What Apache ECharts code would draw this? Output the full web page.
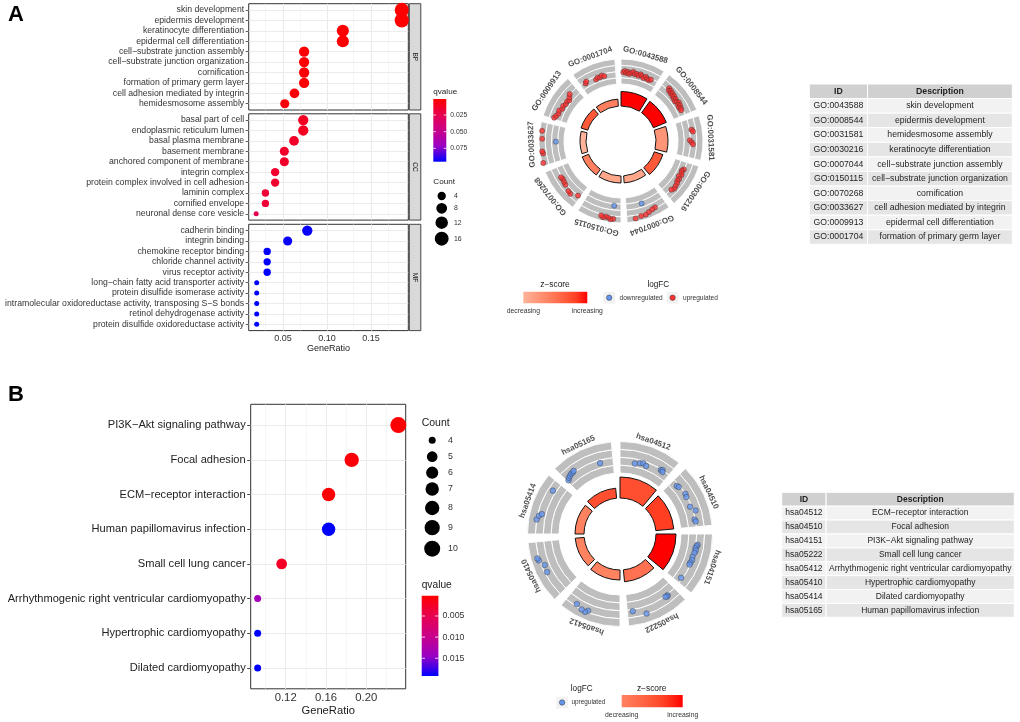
<!DOCTYPE html>
<html><head><meta charset="utf-8">
<script src="https://cdn.jsdelivr.net/npm/echarts@6/dist/echarts.min.js"></script>
<style>html,body{margin:0;padding:0;background:#fff}#c{width:1020px;height:722px}</style>
</head><body><div id="c"></div>
<script>
const FONT = '"Liberation Sans", Arial, Helvetica, sans-serif';

// ================= Panel A : GO dot plot =================
const bpTerms = ['skin development','epidermis development','keratinocyte differentiation','epidermal cell differentiation','cell\u2212substrate junction assembly','cell\u2212substrate junction organization','cornification','formation of primary germ layer','cell adhesion mediated by integrin','hemidesmosome assembly'];
const bpRatio = [0.185,0.185,0.118,0.118,0.074,0.074,0.074,0.074,0.063,0.052];
const bpCount = [17,17,11,11,7,7,7,7,6,5];
const bpQ = [0.0010,0.0010,0.0012,0.0012,0.0020,0.0020,0.0022,0.0022,0.0030,0.0040];

const ccTerms = ['basal part of cell','endoplasmic reticulum lumen','basal plasma membrane','basement membrane','anchored component of membrane','integrin complex','protein complex involved in cell adhesion','laminin complex','cornified envelope','neuronal dense core vesicle'];
const ccRatio = [0.073,0.073,0.0625,0.0515,0.0515,0.041,0.041,0.030,0.030,0.0195];
const ccCount = [7,7,6,5,5,4,4,3,3,2];
const ccQ = [0.011,0.011,0.013,0.014,0.014,0.015,0.015,0.017,0.017,0.026];

const mfTerms = ['cadherin binding','integrin binding','chemokine receptor binding','chloride channel activity','virus receptor activity','long\u2212chain fatty acid transporter activity','protein disulfide isomerase activity','intramolecular oxidoreductase activity, transposing S\u2212S bonds','retinol dehydrogenase activity','protein disulfide oxidoreductase activity'];
const mfRatio = [0.0776,0.0553,0.032,0.032,0.032,0.0201,0.0201,0.0201,0.0201,0.0201];
const mfCount = [7,5,3,3,3,2,2,2,2,2];
const mfQ = [0.094,0.094,0.095,0.095,0.095,0.095,0.095,0.095,0.095,0.095];

const facetNames = ['BP','CC','MF'];
const xMajorA = [0.05,0.10,0.15];
const xMinorA = [0.025,0.075,0.125,0.175];
const xRangeA = [0.011,0.1924];
const qRangeA = [0.001,0.095];
const qTicksA = [0.025,0.05,0.075];
const countBreaksA = [4,8,12,16];

// ================= Panel B : KEGG dot plot =================
const kTerms = ['PI3K\u2212Akt signaling pathway','Focal adhesion','ECM\u2212receptor interaction','Human papillomavirus infection','Small cell lung cancer','Arrhythmogenic right ventricular cardiomyopathy','Hypertrophic cardiomyopathy','Dilated cardiomyopathy'];
const kRatio = [0.2318,0.1855,0.1626,0.1626,0.1160,0.0922,0.0922,0.0922];
const kCount = [10,8,7,7,5,4,4,4];
const kQ = [0.0004,0.0008,0.0005,0.0192,0.0024,0.0136,0.0192,0.0192];
const xMajorB = [0.12,0.16,0.20];
const xMinorB = [0.10,0.14,0.18,0.22];
const xRangeB = [0.0853,0.2391];
const qRangeB = [0.0002,0.0192];
const qTicksB = [0.005,0.010,0.015];
const countBreaksB = [4,5,6,7,8,9,10];

// ================= GO circle =================
const goIds = ['GO:0043588','GO:0008544','GO:0031581','GO:0030216','GO:0007044','GO:0150115','GO:0070268','GO:0033627','GO:0009913','GO:0001704'];
const goDesc = ['skin development','epidermis development','hemidesmosome assembly','keratinocyte differentiation','cell\u2212substrate junction assembly','cell\u2212substrate junction organization','cornification','cell adhesion mediated by integrin','epidermal cell differentiation','formation of primary germ layer'];
const goSig = [14.5,14,12,9,7,7,7,6,7,7];
const goZ = [4.12,4.12,2.24,3.32,1.89,1.89,2.65,1.63,3.32,2.65];
// gene points: [position in sector 0..1, logFC ring value, direction 1 up / -1 down]
const pts_GO0043588 = [[0.06,1.9,1],[0.1,2.1,1],[0.14,1.8,1],[0.18,2.0,1],[0.22,1.7,1],[0.27,1.9,1],[0.32,2.1,1],[0.37,1.8,1],[0.42,1.9,1],[0.47,1.7,1],[0.52,2.0,1],[0.57,1.8,1],[0.62,1.6,1],[0.67,1.9,1],[0.72,1.7,1],[0.77,1.6,1],[0.82,1.8,1]];
const pts_GO0008544 = [[0.2,2.3,1],[0.24,2.0,1],[0.28,2.2,1],[0.32,1.9,1],[0.36,2.1,1],[0.4,1.8,1],[0.44,2.0,1],[0.48,1.7,1],[0.52,1.9,1],[0.56,1.6,1],[0.6,1.8,1],[0.64,2.0,1],[0.68,1.7,1],[0.72,1.9,1],[0.76,1.6,1],[0.8,1.8,1],[0.85,1.7,1]];
const pts_GO0031581 = [[0.28,2.3,1],[0.33,2.5,1],[0.55,1.9,1],[0.6,2.2,1],[0.65,2.4,1]];
const pts_GO0030216 = [[0.2,1.9,1],[0.25,1.7,1],[0.3,1.8,1],[0.36,2.0,1],[0.42,1.7,1],[0.48,2.0,1],[0.54,1.9,1],[0.6,2.1,1],[0.68,2.2,1],[0.75,2.3,1],[0.82,2.1,1]];
const pts_GO0007044 = [[0.28,2.8,1],[0.36,2.9,1],[0.46,3.1,1],[0.55,3.3,1],[0.66,3.3,1],[0.8,3.5,1],[0.56,1.4,-1]];
const pts_GO0150115 = [[0.18,3.4,1],[0.24,3.5,1],[0.3,3.3,1],[0.36,3.2,1],[0.42,3.4,1],[0.47,3.2,1],[0.19,1.3,-1]];
const pts_GO0070268 = [[0.07,2.0,1],[0.25,2.6,1],[0.33,2.5,1],[0.5,2.2,1],[0.58,2.1,1],[0.66,2.0,1],[0.72,2.1,1]];
const pts_GO0033627 = [[0.07,3.8,1],[0.28,3.5,1],[0.33,3.6,1],[0.62,3.5,1],[0.8,3.6,1],[0.55,1.3,-1]];
const pts_GO0009913 = [[0.04,2.2,1],[0.1,2.0,1],[0.18,1.8,1],[0.26,1.9,1],[0.34,1.6,1],[0.42,1.7,1],[0.5,1.5,1],[0.58,1.6,1],[0.64,1.4,1],[0.7,1.7,1],[0.77,2.0,1]];
const pts_GO0001704 = [[0.14,1.7,1],[0.18,1.9,1],[0.44,1.5,1],[0.5,1.7,1],[0.56,1.6,1],[0.62,1.8,1],[0.68,1.6,1]];
const goPoints = [pts_GO0043588,pts_GO0008544,pts_GO0031581,pts_GO0030216,pts_GO0007044,pts_GO0150115,pts_GO0070268,pts_GO0033627,pts_GO0009913,pts_GO0001704];

// ================= KEGG circle =================
const keggIds = ['hsa04512','hsa04510','hsa04151','hsa05222','hsa05412','hsa05410','hsa05414','hsa05165'];
const keggDesc = ['ECM\u2212receptor interaction','Focal adhesion','PI3K\u2212Akt signaling pathway','Small cell lung cancer','Arrhythmogenic right ventricular cardiomyopathy','Hypertrophic cardiomyopathy','Dilated cardiomyopathy','Human papillomavirus infection'];
const keggSig = [21,18,20,12,10,9,9,10];
const keggZ = [2.65,2.83,3.16,2.24,2.0,2.0,2.0,2.65];
const pts_hsa04512 = [[0.3,1.4],[0.4,1.6],[0.46,1.7],[0.53,1.5],[0.82,1.9],[0.85,2.0],[0.87,1.8]];
const pts_hsa04510 = [[0.12,1.7],[0.16,1.8],[0.34,2.0],[0.4,1.9],[0.6,1.8],[0.7,2.3],[0.86,1.9],[0.9,2.0]];
const pts_hsa04151 = [[0.2,2.2],[0.23,2.1],[0.27,2.0],[0.31,2.1],[0.36,2.0],[0.44,1.9],[0.5,2.0],[0.56,1.9],[0.6,1.9],[0.9,1.8]];
const pts_hsa05222 = [[0.18,2.1],[0.2,2.2],[0.23,2.1],[0.67,2.9],[0.9,2.2]];
const pts_hsa05412 = [[0.57,2.8],[0.61,3.1],[0.68,3.0],[0.8,2.7]];
const pts_hsa05410 = [[0.44,2.7],[0.57,2.6],[0.68,3.1],[0.72,3.2]];
const pts_hsa05414 = [[0.25,3.0],[0.32,2.8],[0.36,2.5],[0.83,2.4]];
const pts_hsa05165 = [[0.03,1.7],[0.07,1.9],[0.11,2.0],[0.15,2.1],[0.19,2.1],[0.22,2.2],[0.74,1.6]];
const keggPoints = [pts_hsa04512,pts_hsa04510,pts_hsa04151,pts_hsa05222,pts_hsa05412,pts_hsa05410,pts_hsa05414,pts_hsa05165];
const ringBands = [1,1,1,1];

// ================= colours =================
const qStops = ['#FF0000','#E7004F','#C90089','#9A00C3','#0000FF'];
const zStops = ['#FFFFFF','#FFECE5','#FFD9CB','#FFC6B2','#FFB299','#FF9E81','#FF8969','#FF7352','#FF5B3A','#FF3D21','#FF0000'];
const UP = '#FF3030', DOWN = '#6495ED';

function hex2rgb(h){return [parseInt(h.slice(1,3),16),parseInt(h.slice(3,5),16),parseInt(h.slice(5,7),16)];}
function sample(stops,t){t=Math.max(0,Math.min(1,t));const n=stops.length-1;const i=Math.min(n-1,Math.floor(t*n));const f=t*n-i;const a=hex2rgb(stops[i]),b=hex2rgb(stops[i+1]);return 'rgb('+a.map((v,k)=>Math.round(v+(b[k]-v)*f)).join(',')+')';}
function sizeA(c){return 5+9.2*Math.sqrt((c-2)/15);}
function sizeB(c){return 7+9*Math.sqrt((c-4)/6);}

// ================= build option =================
const grids=[], xAxes=[], yAxes=[], series=[], visualMaps=[], graphics=[];
const gridStyle={show:true,borderColor:'#333',borderWidth:1,backgroundColor:'#fff',containLabel:false,outerBoundsMode:'none'};
function gridLines(major,minor,n){
  const d=[];
  minor.forEach(v=>d.push({xAxis:v,lineStyle:{color:'#F0F0F0',width:0.6,type:'solid'}}));
  major.forEach(v=>d.push({xAxis:v}));
  for(let i=0;i<n;i++) d.push({yAxis:i});
  return {silent:true,symbol:['none','none'],animation:false,z:1,label:{show:false},emphasis:{disabled:true},lineStyle:{color:'#EBEBEB',width:1,type:'solid'},data:d};
}

const facets=[{terms:bpTerms,ratio:bpRatio,count:bpCount,q:bpQ},{terms:ccTerms,ratio:ccRatio,count:ccCount,q:ccQ},{terms:mfTerms,ratio:mfRatio,count:mfCount,q:mfQ}];
const facetTop=[3.7,113.8,224.3], facetH=106.3, aLeft=248.7, aW=159.6;
const dotIdxA=[];
facets.forEach((f,i)=>{
  grids.push(Object.assign({left:aLeft,top:facetTop[i],width:aW,height:facetH},gridStyle));
  const last=i===2;
  xAxes.push({gridIndex:i,type:'value',min:xRangeA[0],max:xRangeA[1],axisLine:{show:false},splitLine:{show:false},
    axisTick:{show:last,customValues:xMajorA,length:3,lineStyle:{color:'#333',width:0.8}},
    axisLabel:{show:last,customValues:xMajorA,formatter:v=>v.toFixed(2),fontSize:9,color:'#333',margin:3.5,fontFamily:FONT},
    name:last?'GeneRatio':'',nameLocation:'middle',nameGap:13,nameTextStyle:{fontSize:9,color:'#1a1a1a',fontFamily:FONT}});
  const rows=f.terms.map((_,j)=>j);
  yAxes.push({gridIndex:i,type:'value',min:-0.6,max:f.terms.length-0.4,inverse:true,axisLine:{show:false},splitLine:{show:false},
    axisTick:{show:true,customValues:rows,length:3,lineStyle:{color:'#333',width:0.8}},
    axisLabel:{customValues:rows,formatter:v=>f.terms[Math.round(v)]||'',fontSize:8.7,color:'#333',margin:4.5,fontFamily:FONT}});
  dotIdxA.push(series.length);
  series.push({type:'scatter',xAxisIndex:i,yAxisIndex:i,z:3,
    data:f.ratio.map((r,j)=>[r,j,f.count[j],f.q[j]]),
    symbolSize:v=>sizeA(v[2]),itemStyle:{opacity:1},markLine:gridLines(xMajorA,xMinorA,f.terms.length)});
});
visualMaps.push({type:'continuous',show:false,seriesIndex:dotIdxA,dimension:3,min:qRangeA[0],max:qRangeA[1],inRange:{color:qStops}});

// Panel B dot plot
grids.push(Object.assign({left:250.7,top:404.3,width:155,height:284.5},gridStyle));
xAxes.push({gridIndex:3,type:'value',min:xRangeB[0],max:xRangeB[1],axisLine:{show:false},splitLine:{show:false},
  axisTick:{show:true,customValues:xMajorB,length:3.5,lineStyle:{color:'#333',width:0.9}},
  axisLabel:{customValues:xMajorB,formatter:v=>v.toFixed(2),fontSize:11.3,color:'#333',margin:4,fontFamily:FONT},
  name:'GeneRatio',nameLocation:'middle',nameGap:17,nameTextStyle:{fontSize:11.2,color:'#1a1a1a',fontFamily:FONT}});
const kRows=kTerms.map((_,j)=>j);
yAxes.push({gridIndex:3,type:'value',min:-0.6,max:kTerms.length-0.4,inverse:true,axisLine:{show:false},splitLine:{show:false},
  axisTick:{show:true,customValues:kRows,length:3.5,lineStyle:{color:'#333',width:0.9}},
  axisLabel:{customValues:kRows,formatter:v=>kTerms[Math.round(v)]||'',fontSize:11.1,color:'#222',margin:5,fontFamily:FONT}});
const dotIdxB=series.length;
series.push({type:'scatter',xAxisIndex:3,yAxisIndex:3,z:3,data:kRatio.map((r,j)=>[r,j,kCount[j],kQ[j]]),
  symbolSize:v=>sizeB(v[2]),itemStyle:{opacity:1},markLine:gridLines(xMajorB,xMinorB,kTerms.length)});
visualMaps.push({type:'continuous',show:false,seriesIndex:[dotIdxB],dimension:3,min:qRangeB[0],max:qRangeB[1],inRange:{color:qStops}});

// ================= circles =================
const GAP=0.12, SPAN=1-GAP;
const polars=[], angleAxes=[], radiusAxes=[];
function buildCircle(cfg){
  const n=cfg.ids.length, w=360/n, base=polars.length;
  polars.push({center:cfg.center,radius:cfg.barR});
  polars.push({center:cfg.center,radius:cfg.ringR});
  polars.push({center:cfg.center,radius:cfg.ringR});
  polars.push({center:cfg.center,radius:[0,cfg.labelR]});
  const catAxis=(k)=>({polarIndex:base+k,type:'category',data:cfg.ids,boundaryGap:true,startAngle:90+GAP/2*w,clockwise:true,show:false});
  const valAxis=(k)=>({polarIndex:base+k,type:'value',min:0,max:n,startAngle:90,clockwise:true,show:false});
  angleAxes.push(catAxis(0),catAxis(1),valAxis(2),valAxis(3));
  radiusAxes.push({polarIndex:base,type:'value',min:0,max:cfg.sigMax,show:false},
    {polarIndex:base+1,type:'value',min:0,max:4,show:false},
    {polarIndex:base+2,type:'value',min:0,max:4,show:false},
    {polarIndex:base+3,type:'value',min:0,max:1,show:false});
  const barIdx=series.length;
  series.push({type:'bar',coordinateSystem:'polar',polarIndex:base,barCategoryGap:(GAP*100)+'%',z:2,silent:true,
    encode:{radius:0,angle:1},data:cfg.ids.map((id,i)=>[cfg.sig[i],id,cfg.z[i]]),
    itemStyle:{borderColor:'#111',borderWidth:1}});
  visualMaps.push({type:'continuous',show:false,seriesIndex:[barIdx],dimension:2,min:0,max:Math.max(...cfg.z),inRange:{color:zStops}});
  ringBands.forEach((b)=>{
    series.push({type:'bar',coordinateSystem:'polar',polarIndex:base+1,stack:'ring'+base,barCategoryGap:(GAP*100)+'%',z:1,silent:true,
      encode:{radius:0,angle:1},data:cfg.ids.map(id=>[b,id]),itemStyle:{color:'#BEBEBE',borderColor:'#fff',borderWidth:0.9}});
  });
  const up=[],down=[];
  cfg.points.forEach((arr,t)=>arr.forEach(d=>{const dir=d.length>2?d[2]:1;(dir>0?up:down).push([d[1],t+d[0]*SPAN]);}));
  const pstyle=(c)=>({color:c,borderColor:'#333',borderWidth:0.5});
  series.push({type:'scatter',coordinateSystem:'polar',polarIndex:base+2,z:4,silent:true,symbolSize:cfg.ptSize,data:up,itemStyle:pstyle(cfg.upColor)});
  if(down.length) series.push({type:'scatter',coordinateSystem:'polar',polarIndex:base+2,z:4,silent:true,symbolSize:cfg.ptSize,data:down,itemStyle:pstyle(DOWN)});
  series.push({type:'scatter',coordinateSystem:'polar',polarIndex:base+3,z:5,silent:true,symbolSize:0,
    data:cfg.ids.map((id,t)=>({name:id,value:[1,t+SPAN/2],label:{rotate:-(t+SPAN/2)*w}})),
    label:{show:true,position:'inside',formatter:'{b}',fontSize:8,fontWeight:'bold',color:'#1a1a1a',fontFamily:FONT}});
}
buildCircle({ids:goIds,center:[621,141],barR:[35,55],ringR:[57,82],labelR:89.5,sigMax:20,sig:goSig,z:goZ,points:goPoints,ptSize:5.2,upColor:UP});
buildCircle({ids:keggIds,center:[620,534],barR:[36,58],ringR:[61,92.5],labelR:98,sigMax:22,sig:keggSig,z:keggZ,points:keggPoints,ptSize:5.6,upColor:DOWN});

// ================= tables =================
function buildTable(gi,box,ids,descs,split,fs){
  grids.push(Object.assign({},box,{show:false,containLabel:false,outerBoundsMode:'none'}));
  const rows=['ID'].concat(ids);
  xAxes.push({gridIndex:gi,type:'value',min:0,max:1,show:false});
  yAxes.push({gridIndex:gi,type:'category',data:rows,inverse:true,show:false});
  series.push({type:'custom',xAxisIndex:gi,yAxisIndex:gi,silent:true,z:2,encode:{x:0,y:1},
    data:rows.map((_,i)=>[0,i]),
    renderItem:(params,api)=>{
      const i=api.value(1);
      const pL=api.coord([0,i]),pS=api.coord([split,i]),pR=api.coord([1,i]);
      const h=api.size([0,1])[1]; const y=pL[1]-h/2;
      const fill=i===0?'#D0D0D0':(i%2===1?'#F2F2F2':'#E5E5E5');
      const wt=i===0?'bold':'normal';
      const t1=i===0?'ID':ids[i-1], t2=i===0?'Description':descs[i-1];
      const tx=(x,s)=>({type:'text',x:x,y:pL[1],style:{text:s,fontSize:fs,fontWeight:wt,fontFamily:FONT,fill:'#1e1e1e',align:'center',textAlign:'center',verticalAlign:'middle',textVerticalAlign:'middle'}});
      return {type:'group',children:[
        {type:'rect',shape:{x:pL[0],y:y,width:pS[0]-pL[0],height:h},style:{fill:fill,stroke:'#fff',lineWidth:1}},
        {type:'rect',shape:{x:pS[0],y:y,width:pR[0]-pS[0],height:h},style:{fill:fill,stroke:'#fff',lineWidth:1}},
        tx((pL[0]+pS[0])/2,t1),tx((pS[0]+pR[0])/2,t2)]};
    }});
}
buildTable(4,{left:809.3,top:84,width:203,height:160.3},goIds,goDesc,0.287,8.7);
buildTable(5,{left:781.7,top:492.3,width:232.6,height:125},keggIds,keggDesc,0.191,8.5);

// ================= graphic: labels & legends =================
function T(x,y,text,size,o){o=o||{};return {type:'text',x:x,y:y,silent:true,rotation:o.rot||0,z:10,
  style:{text:text,fontSize:size,fontFamily:FONT,fontWeight:o.w||'normal',fill:o.fill||'#1a1a1a',
  align:o.al||'left',textAlign:o.al||'left',verticalAlign:'middle',textVerticalAlign:'middle'}};}
function R(x,y,w,h,fill,stroke,lw){return {type:'rect',silent:true,z:10,shape:{x:x,y:y,width:w,height:h},style:{fill:fill,stroke:stroke||null,lineWidth:lw||0}};}
function C(cx,cy,r,fill,stroke,lw){return {type:'circle',silent:true,z:10,shape:{cx:cx,cy:cy,r:r},style:{fill:fill,stroke:stroke||null,lineWidth:lw||0}};}
function L(x1,y1,x2,y2,c,lw){return {type:'line',silent:true,z:11,shape:{x1:x1,y1:y1,x2:x2,y2:y2},style:{stroke:c,lineWidth:lw}};}

graphics.push(T(8,15,'A',22,{w:'bold',fill:'#000'}));
graphics.push(T(8,395,'B',22,{w:'bold',fill:'#000'}));
facetNames.forEach((nm,i)=>{
  graphics.push(R(409.3,facetTop[i],11.5,facetH,'#D9D9D9','#333',0.9));
  graphics.push(T(415.05,facetTop[i]+facetH/2,nm,6.5,{al:'center',rot:-Math.PI/2,fill:'#1a1a1a'}));
});
function qLegend(x,y,w,h,range,ticks,titleY,tfs,lfs){
  graphics.push(T(x,titleY,'qvalue',tfs));
  graphics.push(R(x,y,w,h,{type:'linear',x:0,y:0,x2:0,y2:1,colorStops:qStops.map((c,k)=>({offset:k/(qStops.length-1),color:c}))}));
  ticks.forEach(v=>{const ty=y+(v-range[0])/(range[1]-range[0])*h;
    graphics.push(L(x,ty,x+w*0.2,ty,'#fff',0.8),L(x+w*0.8,ty,x+w,ty,'#fff',0.8));
    graphics.push(T(x+w+4,ty,v.toFixed(3),lfs,{fill:'#333'}));});
}
function countLegend(x,titleY,cx,ys,breaks,fn,lx,tfs,lfs){
  graphics.push(T(x,titleY,'Count',tfs));
  breaks.forEach((b,k)=>{graphics.push(C(cx,ys[k],fn(b)/2,'#000'));graphics.push(T(lx,ys[k],String(b),lfs,{fill:'#333'}));});
}
qLegend(433.3,99,13,62.7,qRangeA,qTicksA,91.7,8.1,6.8);
countLegend(433.3,181.7,441.7,[196,208.3,222.7,238.7],countBreaksA,sizeA,454,8.1,6.9);
countLegend(421.7,422.7,432.2,[440.3,456.7,472.7,489,508,527.7,548.7],countBreaksB,sizeB,448,10.5,8.8);
qLegend(421.7,595.7,16.7,80.3,qRangeB,qTicksB,585,10.2,8.8);

function zGrad(z){const tmin=Math.min(...z)/Math.max(...z);const st=[];for(let k=0;k<=6;k++)st.push({offset:k/6,color:sample(zStops,tmin+(1-tmin)*k/6)});return {type:'linear',x:0,y:0,x2:1,y2:0,colorStops:st};}
function keyBox(x,y,color){graphics.push(R(x,y,11.8,11.8,'#F2F2F2'));graphics.push(C(x+5.9,y+5.9,2.7,color,'#333',0.5));}
graphics.push(T(555,284.3,'z\u2212score',8.4,{al:'center'}));
graphics.push(R(523.3,291.7,64,11.6,zGrad(goZ)));
graphics.push(T(523.3,310.7,'decreasing',6.8,{al:'center',fill:'#333'}));
graphics.push(T(587.3,310.7,'increasing',6.8,{al:'center',fill:'#333'}));
graphics.push(T(658.3,284.3,'logFC',8.2,{al:'center'}));
keyBox(603.3,291.8,DOWN); graphics.push(T(619.5,297.7,'downregulated',6.6,{fill:'#333'}));
keyBox(666.7,291.8,UP); graphics.push(T(683,297.7,'upregulated',6.6,{fill:'#333'}));
graphics.push(T(581.7,688.3,'logFC',8.2,{al:'center'}));
keyBox(556.2,696.6,DOWN); graphics.push(T(571.5,702.5,'upregulated',6.4,{fill:'#333'}));
graphics.push(T(651.7,688.3,'z\u2212score',8.4,{al:'center'}));
graphics.push(R(621.7,695,61,12.3,zGrad(keggZ)));
graphics.push(T(621.7,715,'decreasing',6.8,{al:'center',fill:'#333'}));
graphics.push(T(682.7,715,'increasing',6.8,{al:'center',fill:'#333'}));

const option={animation:false,backgroundColor:'#fff',textStyle:{fontFamily:FONT},
  grid:grids,xAxis:xAxes,yAxis:yAxes,polar:polars,angleAxis:angleAxes,radiusAxis:radiusAxes,
  visualMap:visualMaps,series:series,graphic:{elements:graphics}};
const chart=echarts.init(document.getElementById('c'),null,{renderer:'canvas'});
chart.setOption(option);
</script></body></html>
